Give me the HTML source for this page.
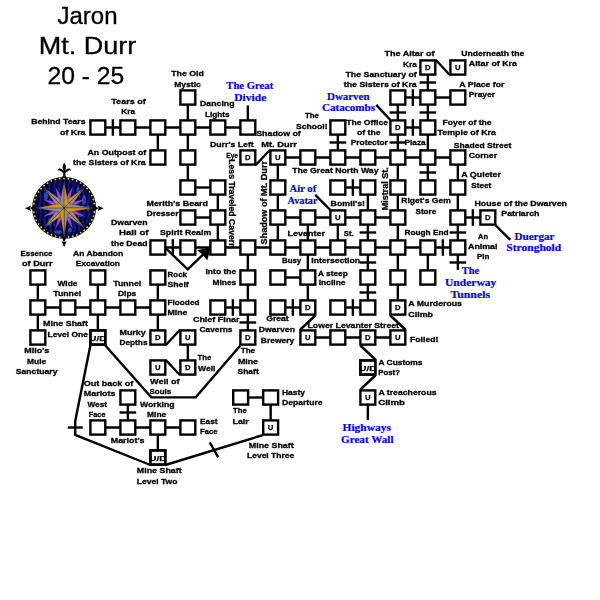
<!DOCTYPE html>
<html><head><meta charset="utf-8"><title>Jaron Mt. Durr 20 - 25</title>
<style>
html,body{margin:0;padding:0;background:#fff;}
body{width:600px;height:600px;overflow:hidden;font-family:"Liberation Sans",sans-serif;}
svg{display:block;}
</style></head><body>
<svg width="600" height="600" viewBox="0 0 600 600">
<rect width="600" height="600" fill="#fff"/>
<g transform="translate(0.25,-0.1)">
<g stroke="#000" stroke-width="2.4" fill="none" stroke-linecap="butt" stroke-linejoin="miter">
<line x1="427.6" y1="97.6" x2="457.6" y2="97.6"/>
<line x1="397.6" y1="97.6" x2="427.6" y2="97.6"/>
<line x1="412.6" y1="89.3" x2="412.6" y2="105.9"/>
<line x1="97.6" y1="127.6" x2="247.6" y2="127.6"/>
<line x1="112.6" y1="119.3" x2="112.6" y2="135.9"/>
<line x1="397.6" y1="127.6" x2="427.6" y2="127.6"/>
<line x1="412.6" y1="119.3" x2="412.6" y2="135.9"/>
<line x1="277.6" y1="157.6" x2="457.6" y2="157.6"/>
<line x1="187.6" y1="187.6" x2="217.6" y2="187.6"/>
<line x1="337.6" y1="187.6" x2="367.6" y2="187.6"/>
<line x1="352.6" y1="179.3" x2="352.6" y2="195.9"/>
<line x1="187.6" y1="217.6" x2="217.6" y2="217.6"/>
<line x1="277.6" y1="217.6" x2="397.6" y2="217.6"/>
<line x1="457.6" y1="217.6" x2="487.6" y2="217.6"/>
<line x1="472.6" y1="209.3" x2="472.6" y2="225.9"/>
<line x1="157.6" y1="247.6" x2="457.6" y2="247.6"/>
<line x1="172.6" y1="239.3" x2="172.6" y2="255.9"/>
<line x1="442.6" y1="239.3" x2="442.6" y2="255.9"/>
<line x1="277.6" y1="277.6" x2="307.6" y2="277.6"/>
<line x1="37.6" y1="307.6" x2="157.6" y2="307.6"/>
<line x1="217.6" y1="307.6" x2="247.6" y2="307.6"/>
<line x1="232.6" y1="299.3" x2="232.6" y2="315.9"/>
<line x1="277.6" y1="307.6" x2="307.6" y2="307.6"/>
<line x1="292.6" y1="299.3" x2="292.6" y2="315.9"/>
<line x1="337.6" y1="307.6" x2="367.6" y2="307.6"/>
<line x1="352.6" y1="299.3" x2="352.6" y2="315.9"/>
<line x1="307.6" y1="337.6" x2="397.6" y2="337.6"/>
<line x1="97.6" y1="427.6" x2="187.6" y2="427.6"/>
<line x1="240.4" y1="397.6" x2="270.4" y2="397.6"/>
<line x1="187.6" y1="97.6" x2="187.6" y2="187.6"/>
<line x1="157.6" y1="127.6" x2="157.6" y2="157.6"/>
<line x1="247.6" y1="105.5" x2="247.6" y2="127.6"/>
<line x1="217.6" y1="187.6" x2="217.6" y2="247.6"/>
<line x1="277.6" y1="157.6" x2="277.6" y2="247.6"/>
<line x1="247.6" y1="247.6" x2="247.6" y2="337.6"/>
<line x1="239.3" y1="322.6" x2="255.9" y2="322.6"/>
<line x1="307.6" y1="217.6" x2="307.6" y2="307.6"/>
<line x1="337.6" y1="127.6" x2="337.6" y2="157.6"/>
<line x1="329.3" y1="142.6" x2="345.9" y2="142.6"/>
<line x1="337.6" y1="217.6" x2="337.6" y2="247.6"/>
<line x1="367.6" y1="187.6" x2="367.6" y2="307.6"/>
<line x1="359.3" y1="232.6" x2="375.9" y2="232.6"/>
<line x1="359.3" y1="262.6" x2="375.9" y2="262.6"/>
<line x1="359.3" y1="292.6" x2="375.9" y2="292.6"/>
<line x1="397.6" y1="97.6" x2="397.6" y2="277.6"/>
<line x1="389.3" y1="112.6" x2="405.9" y2="112.6"/>
<line x1="389.3" y1="142.6" x2="405.9" y2="142.6"/>
<line x1="397.6" y1="277.6" x2="397.6" y2="307.6"/>
<line x1="427.6" y1="67.6" x2="427.6" y2="187.6"/>
<line x1="419.3" y1="82.6" x2="435.9" y2="82.6"/>
<line x1="419.3" y1="112.6" x2="435.9" y2="112.6"/>
<line x1="419.3" y1="172.6" x2="435.9" y2="172.6"/>
<line x1="427.6" y1="247.6" x2="427.6" y2="277.6"/>
<line x1="457.6" y1="157.6" x2="457.6" y2="247.6"/>
<line x1="449.3" y1="232.6" x2="465.9" y2="232.6"/>
<line x1="457.6" y1="247.6" x2="457.6" y2="270.0"/>
<line x1="449.3" y1="262.6" x2="465.9" y2="262.6"/>
<line x1="37.6" y1="277.6" x2="37.6" y2="337.6"/>
<line x1="97.6" y1="277.6" x2="97.6" y2="337.6"/>
<line x1="157.6" y1="277.6" x2="157.6" y2="337.6"/>
<line x1="187.6" y1="337.6" x2="187.6" y2="367.6"/>
<line x1="127.6" y1="397.6" x2="127.6" y2="427.6"/>
<line x1="119.3" y1="412.6" x2="135.9" y2="412.6"/>
<line x1="157.6" y1="427.6" x2="157.6" y2="457.6"/>
<line x1="270.4" y1="397.6" x2="270.4" y2="427.6"/>
<line x1="367.6" y1="397.6" x2="367.6" y2="420.0"/>
<line x1="67.5" y1="427.6" x2="82.5" y2="427.6"/>
<line x1="209.5" y1="442.5" x2="218.0" y2="457.5"/>
<polyline points="435.6,60.1 449.6,75.1"/>
<polyline points="376.0,105.0 390.1,120.1"/>
<polyline points="255.6,165.1 269.6,150.1"/>
<polyline points="315.0,195.0 330.1,210.1"/>
<polyline points="495.1,225.1 510.0,240.0"/>
<polyline points="165.6,345.1 179.6,330.1"/>
<polyline points="165.6,360.1 179.6,375.1"/>
<polyline points="315.1,315.6 300.1,329.6"/>
<polyline points="390.1,315.6 405.1,329.6"/>
<polyline points="360.1,345.6 375.1,359.6"/>
<polyline points="375.1,375.6 360.1,389.6"/>
<polyline points="165.8,248.6 187.5,269.5 203.5,254.0"/>
<polyline points="105.1,345.6 151.0,397.5 195.5,397.5 240.1,345.6"/>
<polyline points="90.1,345.6 75.0,421.0 75.0,435.0 150.1,465.1"/>
<polyline points="165.1,465.1 262.4,435.2"/>
</g>
<g stroke="#000" stroke-width="2.4" fill="#fff">
<rect x="420.15" y="60.50" width="14.90" height="14.20"/>
<rect x="450.15" y="60.50" width="14.90" height="14.20"/>
<rect x="180.15" y="90.50" width="14.90" height="14.20"/>
<rect x="390.15" y="90.50" width="14.90" height="14.20"/>
<rect x="420.15" y="90.50" width="14.90" height="14.20"/>
<rect x="450.15" y="90.50" width="14.90" height="14.20"/>
<rect x="90.15" y="120.50" width="14.90" height="14.20"/>
<rect x="120.15" y="120.50" width="14.90" height="14.20"/>
<rect x="150.15" y="120.50" width="14.90" height="14.20"/>
<rect x="180.15" y="120.50" width="14.90" height="14.20"/>
<rect x="210.15" y="120.50" width="14.90" height="14.20"/>
<rect x="240.15" y="120.50" width="14.90" height="14.20"/>
<rect x="330.15" y="120.50" width="14.90" height="14.20"/>
<rect x="420.15" y="120.50" width="14.90" height="14.20"/>
<rect x="390.15" y="120.50" width="14.90" height="14.20"/>
<rect x="150.15" y="150.50" width="14.90" height="14.20"/>
<rect x="180.15" y="150.50" width="14.90" height="14.20"/>
<rect x="300.15" y="150.50" width="14.90" height="14.20"/>
<rect x="330.15" y="150.50" width="14.90" height="14.20"/>
<rect x="360.15" y="150.50" width="14.90" height="14.20"/>
<rect x="390.15" y="150.50" width="14.90" height="14.20"/>
<rect x="420.15" y="150.50" width="14.90" height="14.20"/>
<rect x="450.15" y="150.50" width="14.90" height="14.20"/>
<rect x="240.15" y="150.50" width="14.90" height="14.20"/>
<rect x="270.15" y="150.50" width="14.90" height="14.20"/>
<rect x="180.15" y="180.50" width="14.90" height="14.20"/>
<rect x="210.15" y="180.50" width="14.90" height="14.20"/>
<rect x="270.15" y="180.50" width="14.90" height="14.20"/>
<rect x="330.15" y="180.50" width="14.90" height="14.20"/>
<rect x="360.15" y="180.50" width="14.90" height="14.20"/>
<rect x="390.15" y="180.50" width="14.90" height="14.20"/>
<rect x="420.15" y="180.50" width="14.90" height="14.20"/>
<rect x="450.15" y="180.50" width="14.90" height="14.20"/>
<rect x="180.15" y="210.50" width="14.90" height="14.20"/>
<rect x="210.15" y="210.50" width="14.90" height="14.20"/>
<rect x="270.15" y="210.50" width="14.90" height="14.20"/>
<rect x="300.15" y="210.50" width="14.90" height="14.20"/>
<rect x="360.15" y="210.50" width="14.90" height="14.20"/>
<rect x="390.15" y="210.50" width="14.90" height="14.20"/>
<rect x="450.15" y="210.50" width="14.90" height="14.20"/>
<rect x="330.15" y="210.50" width="14.90" height="14.20"/>
<rect x="480.15" y="210.50" width="14.90" height="14.20"/>
<rect x="150.15" y="240.50" width="14.90" height="14.20"/>
<rect x="180.15" y="240.50" width="14.90" height="14.20"/>
<rect x="210.15" y="240.50" width="14.90" height="14.20"/>
<rect x="240.15" y="240.50" width="14.90" height="14.20"/>
<rect x="270.15" y="240.50" width="14.90" height="14.20"/>
<rect x="300.15" y="240.50" width="14.90" height="14.20"/>
<rect x="330.15" y="240.50" width="14.90" height="14.20"/>
<rect x="360.15" y="240.50" width="14.90" height="14.20"/>
<rect x="390.15" y="240.50" width="14.90" height="14.20"/>
<rect x="420.15" y="240.50" width="14.90" height="14.20"/>
<rect x="450.15" y="240.50" width="14.90" height="14.20"/>
<rect x="30.15" y="270.50" width="14.90" height="14.20"/>
<rect x="90.15" y="270.50" width="14.90" height="14.20"/>
<rect x="150.15" y="270.50" width="14.90" height="14.20"/>
<rect x="240.15" y="270.50" width="14.90" height="14.20"/>
<rect x="270.15" y="270.50" width="14.90" height="14.20"/>
<rect x="300.15" y="270.50" width="14.90" height="14.20"/>
<rect x="360.15" y="270.50" width="14.90" height="14.20"/>
<rect x="390.15" y="270.50" width="14.90" height="14.20"/>
<rect x="420.15" y="270.50" width="14.90" height="14.20"/>
<rect x="30.15" y="300.50" width="14.90" height="14.20"/>
<rect x="60.15" y="300.50" width="14.90" height="14.20"/>
<rect x="90.15" y="300.50" width="14.90" height="14.20"/>
<rect x="120.15" y="300.50" width="14.90" height="14.20"/>
<rect x="150.15" y="300.50" width="14.90" height="14.20"/>
<rect x="210.15" y="300.50" width="14.90" height="14.20"/>
<rect x="240.15" y="300.50" width="14.90" height="14.20"/>
<rect x="270.15" y="300.50" width="14.90" height="14.20"/>
<rect x="330.15" y="300.50" width="14.90" height="14.20"/>
<rect x="360.15" y="300.50" width="14.90" height="14.20"/>
<rect x="300.15" y="300.50" width="14.90" height="14.20"/>
<rect x="390.15" y="300.50" width="14.90" height="14.20"/>
<rect x="30.15" y="330.50" width="14.90" height="14.20"/>
<rect x="90.15" y="330.50" width="14.90" height="14.20"/>
<rect x="150.15" y="330.50" width="14.90" height="14.20"/>
<rect x="180.15" y="330.50" width="14.90" height="14.20"/>
<rect x="240.15" y="330.50" width="14.90" height="14.20"/>
<rect x="300.15" y="330.50" width="14.90" height="14.20"/>
<rect x="330.15" y="330.50" width="14.90" height="14.20"/>
<rect x="360.15" y="330.50" width="14.90" height="14.20"/>
<rect x="390.15" y="330.50" width="14.90" height="14.20"/>
<rect x="150.15" y="360.50" width="14.90" height="14.20"/>
<rect x="180.15" y="360.50" width="14.90" height="14.20"/>
<rect x="360.15" y="360.50" width="14.90" height="14.20"/>
<rect x="120.15" y="390.50" width="14.90" height="14.20"/>
<rect x="360.15" y="390.50" width="14.90" height="14.20"/>
<rect x="232.95" y="390.50" width="14.90" height="14.20"/>
<rect x="262.95" y="390.50" width="14.90" height="14.20"/>
<rect x="262.95" y="420.50" width="14.90" height="14.20"/>
<rect x="90.15" y="420.50" width="14.90" height="14.20"/>
<rect x="120.15" y="420.50" width="14.90" height="14.20"/>
<rect x="150.15" y="420.50" width="14.90" height="14.20"/>
<rect x="180.15" y="420.50" width="14.90" height="14.20"/>
<rect x="150.15" y="450.50" width="14.90" height="14.20"/>
</g>
<g font-family="Liberation Sans, sans-serif" font-weight="bold" font-size="7.7px" text-anchor="middle" fill="#000" stroke="#000" stroke-width="0.25" style="filter:grayscale(1)">
<text x="427.6" y="70.4">D</text>
<text x="457.6" y="70.4">U</text>
<text x="397.6" y="130.4">D</text>
<text x="247.6" y="160.4">D</text>
<text x="277.6" y="160.4">U</text>
<text x="337.6" y="220.4">U</text>
<text x="487.6" y="220.4">D</text>
<text x="307.6" y="310.4">D</text>
<text x="397.6" y="310.4">D</text>
<text x="97.6" y="341.2" textLength="17" lengthAdjust="spacingAndGlyphs">U/D</text>
<text x="157.6" y="340.4">D</text>
<text x="187.6" y="340.4">U</text>
<text x="247.6" y="340.4">D</text>
<text x="307.6" y="340.4">U</text>
<text x="367.6" y="340.4">D</text>
<text x="397.6" y="340.4">U</text>
<text x="157.6" y="370.4">U</text>
<text x="187.6" y="370.4">D</text>
<text x="367.6" y="371.2" textLength="17" lengthAdjust="spacingAndGlyphs">U/D</text>
<text x="367.6" y="400.4">U</text>
<text x="270.4" y="430.4">U</text>
<text x="157.6" y="461.2" textLength="17" lengthAdjust="spacingAndGlyphs">U/D</text>
</g>
<g stroke="#000" stroke-width="2.38" fill="none">
<rect x="90.15" y="330.50" width="14.90" height="14.20"/>
<rect x="360.15" y="360.50" width="14.90" height="14.20"/>
<rect x="150.15" y="450.50" width="14.90" height="14.20"/>
</g>
<polygon points="210.6,247.2 196.8,250.4 202.2,254.6 207.0,260.6" fill="#000"/>
</g>
<g id="compass">
<defs><clipPath id="cclip"><circle cx="64.10" cy="207.90" r="28.40"/></clipPath></defs>
<ellipse cx="64.10" cy="207.90" rx="32.00" ry="30.90" fill="#05051c"/>
<circle cx="64.10" cy="207.90" r="28.20" fill="#0b0b66"/>
<g clip-path="url(#cclip)" fill="none" stroke-linecap="round">
<path d="M33.1 176.9 q1.6 4 0 8 q-1.6 4 0 8 q1.6 4 0 8 q-1.6 4 0 8 q1.6 4 0 8 q-1.6 4 0 8 q1.6 4 0 8 q-1.6 4 0 8" stroke="#02021a" stroke-width="1.6"/>
<path d="M35.5 176.9 q1.6 4 0 8 q-1.6 4 0 8 q1.6 4 0 8 q-1.6 4 0 8 q1.6 4 0 8 q-1.6 4 0 8 q1.6 4 0 8 q-1.6 4 0 8" stroke="#1820b4" stroke-width="0.8"/>
<path d="M37.9 176.9 q1.6 4 0 8 q-1.6 4 0 8 q1.6 4 0 8 q-1.6 4 0 8 q1.6 4 0 8 q-1.6 4 0 8 q1.6 4 0 8 q-1.6 4 0 8" stroke="#02021a" stroke-width="1.6"/>
<path d="M40.3 176.9 q1.6 4 0 8 q-1.6 4 0 8 q1.6 4 0 8 q-1.6 4 0 8 q1.6 4 0 8 q-1.6 4 0 8 q1.6 4 0 8 q-1.6 4 0 8" stroke="#1820b4" stroke-width="0.8"/>
<path d="M42.7 176.9 q1.6 4 0 8 q-1.6 4 0 8 q1.6 4 0 8 q-1.6 4 0 8 q1.6 4 0 8 q-1.6 4 0 8 q1.6 4 0 8 q-1.6 4 0 8" stroke="#02021a" stroke-width="1.6"/>
<path d="M45.1 176.9 q1.6 4 0 8 q-1.6 4 0 8 q1.6 4 0 8 q-1.6 4 0 8 q1.6 4 0 8 q-1.6 4 0 8 q1.6 4 0 8 q-1.6 4 0 8" stroke="#1820b4" stroke-width="0.8"/>
<path d="M47.5 176.9 q1.6 4 0 8 q-1.6 4 0 8 q1.6 4 0 8 q-1.6 4 0 8 q1.6 4 0 8 q-1.6 4 0 8 q1.6 4 0 8 q-1.6 4 0 8" stroke="#02021a" stroke-width="1.6"/>
<path d="M49.9 176.9 q1.6 4 0 8 q-1.6 4 0 8 q1.6 4 0 8 q-1.6 4 0 8 q1.6 4 0 8 q-1.6 4 0 8 q1.6 4 0 8 q-1.6 4 0 8" stroke="#1820b4" stroke-width="0.8"/>
<path d="M52.3 176.9 q1.6 4 0 8 q-1.6 4 0 8 q1.6 4 0 8 q-1.6 4 0 8 q1.6 4 0 8 q-1.6 4 0 8 q1.6 4 0 8 q-1.6 4 0 8" stroke="#02021a" stroke-width="1.6"/>
<path d="M54.7 176.9 q1.6 4 0 8 q-1.6 4 0 8 q1.6 4 0 8 q-1.6 4 0 8 q1.6 4 0 8 q-1.6 4 0 8 q1.6 4 0 8 q-1.6 4 0 8" stroke="#1820b4" stroke-width="0.8"/>
<path d="M57.1 176.9 q1.6 4 0 8 q-1.6 4 0 8 q1.6 4 0 8 q-1.6 4 0 8 q1.6 4 0 8 q-1.6 4 0 8 q1.6 4 0 8 q-1.6 4 0 8" stroke="#02021a" stroke-width="1.6"/>
<path d="M59.5 176.9 q1.6 4 0 8 q-1.6 4 0 8 q1.6 4 0 8 q-1.6 4 0 8 q1.6 4 0 8 q-1.6 4 0 8 q1.6 4 0 8 q-1.6 4 0 8" stroke="#1820b4" stroke-width="0.8"/>
<path d="M61.9 176.9 q1.6 4 0 8 q-1.6 4 0 8 q1.6 4 0 8 q-1.6 4 0 8 q1.6 4 0 8 q-1.6 4 0 8 q1.6 4 0 8 q-1.6 4 0 8" stroke="#02021a" stroke-width="1.6"/>
<path d="M64.3 176.9 q1.6 4 0 8 q-1.6 4 0 8 q1.6 4 0 8 q-1.6 4 0 8 q1.6 4 0 8 q-1.6 4 0 8 q1.6 4 0 8 q-1.6 4 0 8" stroke="#1820b4" stroke-width="0.8"/>
<path d="M66.7 176.9 q1.6 4 0 8 q-1.6 4 0 8 q1.6 4 0 8 q-1.6 4 0 8 q1.6 4 0 8 q-1.6 4 0 8 q1.6 4 0 8 q-1.6 4 0 8" stroke="#02021a" stroke-width="1.6"/>
<path d="M69.1 176.9 q1.6 4 0 8 q-1.6 4 0 8 q1.6 4 0 8 q-1.6 4 0 8 q1.6 4 0 8 q-1.6 4 0 8 q1.6 4 0 8 q-1.6 4 0 8" stroke="#1820b4" stroke-width="0.8"/>
<path d="M71.5 176.9 q1.6 4 0 8 q-1.6 4 0 8 q1.6 4 0 8 q-1.6 4 0 8 q1.6 4 0 8 q-1.6 4 0 8 q1.6 4 0 8 q-1.6 4 0 8" stroke="#02021a" stroke-width="1.6"/>
<path d="M73.9 176.9 q1.6 4 0 8 q-1.6 4 0 8 q1.6 4 0 8 q-1.6 4 0 8 q1.6 4 0 8 q-1.6 4 0 8 q1.6 4 0 8 q-1.6 4 0 8" stroke="#1820b4" stroke-width="0.8"/>
<path d="M76.3 176.9 q1.6 4 0 8 q-1.6 4 0 8 q1.6 4 0 8 q-1.6 4 0 8 q1.6 4 0 8 q-1.6 4 0 8 q1.6 4 0 8 q-1.6 4 0 8" stroke="#02021a" stroke-width="1.6"/>
<path d="M78.7 176.9 q1.6 4 0 8 q-1.6 4 0 8 q1.6 4 0 8 q-1.6 4 0 8 q1.6 4 0 8 q-1.6 4 0 8 q1.6 4 0 8 q-1.6 4 0 8" stroke="#1820b4" stroke-width="0.8"/>
<path d="M81.1 176.9 q1.6 4 0 8 q-1.6 4 0 8 q1.6 4 0 8 q-1.6 4 0 8 q1.6 4 0 8 q-1.6 4 0 8 q1.6 4 0 8 q-1.6 4 0 8" stroke="#02021a" stroke-width="1.6"/>
<path d="M83.5 176.9 q1.6 4 0 8 q-1.6 4 0 8 q1.6 4 0 8 q-1.6 4 0 8 q1.6 4 0 8 q-1.6 4 0 8 q1.6 4 0 8 q-1.6 4 0 8" stroke="#1820b4" stroke-width="0.8"/>
<path d="M85.9 176.9 q1.6 4 0 8 q-1.6 4 0 8 q1.6 4 0 8 q-1.6 4 0 8 q1.6 4 0 8 q-1.6 4 0 8 q1.6 4 0 8 q-1.6 4 0 8" stroke="#02021a" stroke-width="1.6"/>
<path d="M88.3 176.9 q1.6 4 0 8 q-1.6 4 0 8 q1.6 4 0 8 q-1.6 4 0 8 q1.6 4 0 8 q-1.6 4 0 8 q1.6 4 0 8 q-1.6 4 0 8" stroke="#1820b4" stroke-width="0.8"/>
<path d="M90.7 176.9 q1.6 4 0 8 q-1.6 4 0 8 q1.6 4 0 8 q-1.6 4 0 8 q1.6 4 0 8 q-1.6 4 0 8 q1.6 4 0 8 q-1.6 4 0 8" stroke="#02021a" stroke-width="1.6"/>
<path d="M93.1 176.9 q1.6 4 0 8 q-1.6 4 0 8 q1.6 4 0 8 q-1.6 4 0 8 q1.6 4 0 8 q-1.6 4 0 8 q1.6 4 0 8 q-1.6 4 0 8" stroke="#1820b4" stroke-width="0.8"/>
<ellipse cx="84.0" cy="200.0" rx="2.0" ry="5.0" fill="#2466d8" stroke="none" opacity="0.7"/>
<ellipse cx="80.0" cy="215.0" rx="3.0" ry="2.0" fill="#2466d8" stroke="none" opacity="0.7"/>
<ellipse cx="50.0" cy="222.0" rx="2.0" ry="4.0" fill="#2466d8" stroke="none" opacity="0.7"/>
<ellipse cx="58.0" cy="232.0" rx="4.0" ry="1.8" fill="#2466d8" stroke="none" opacity="0.7"/>
<ellipse cx="46.0" cy="196.0" rx="2.0" ry="4.0" fill="#2466d8" stroke="none" opacity="0.7"/>
<ellipse cx="78.0" cy="190.0" rx="1.5" ry="3.0" fill="#2466d8" stroke="none" opacity="0.7"/>
<ellipse cx="88.0" cy="208.0" rx="1.5" ry="3.0" fill="#2466d8" stroke="none" opacity="0.7"/>
<ellipse cx="70.0" cy="230.0" rx="2.0" ry="2.5" fill="#2466d8" stroke="none" opacity="0.7"/>
</g>
<circle cx="68.34" cy="178.69" r="0.95" fill="#e0cf4c"/>
<circle cx="72.60" cy="179.57" r="0.95" fill="#e0cf4c"/>
<circle cx="76.68" cy="181.03" r="0.95" fill="#e0cf4c"/>
<circle cx="80.51" cy="183.03" r="0.95" fill="#e0cf4c"/>
<circle cx="84.00" cy="185.54" r="0.95" fill="#e0cf4c"/>
<circle cx="87.09" cy="188.51" r="0.95" fill="#e0cf4c"/>
<circle cx="89.71" cy="191.87" r="0.95" fill="#e0cf4c"/>
<circle cx="91.80" cy="195.56" r="0.95" fill="#e0cf4c"/>
<circle cx="93.34" cy="199.50" r="0.95" fill="#e0cf4c"/>
<circle cx="94.28" cy="203.61" r="0.95" fill="#e0cf4c"/>
<circle cx="94.60" cy="207.81" r="0.95" fill="#e0cf4c"/>
<circle cx="94.30" cy="212.01" r="0.95" fill="#e0cf4c"/>
<circle cx="93.39" cy="216.12" r="0.95" fill="#e0cf4c"/>
<circle cx="91.88" cy="220.07" r="0.95" fill="#e0cf4c"/>
<circle cx="89.81" cy="223.77" r="0.95" fill="#e0cf4c"/>
<circle cx="87.21" cy="227.15" r="0.95" fill="#e0cf4c"/>
<circle cx="84.15" cy="230.13" r="0.95" fill="#e0cf4c"/>
<circle cx="80.67" cy="232.67" r="0.95" fill="#e0cf4c"/>
<circle cx="76.86" cy="234.70" r="0.95" fill="#e0cf4c"/>
<circle cx="72.79" cy="236.18" r="0.95" fill="#e0cf4c"/>
<circle cx="68.54" cy="237.09" r="0.95" fill="#e0cf4c"/>
<circle cx="64.20" cy="237.40" r="0.95" fill="#e0cf4c"/>
<circle cx="59.86" cy="237.11" r="0.95" fill="#e0cf4c"/>
<circle cx="55.60" cy="236.23" r="0.95" fill="#e0cf4c"/>
<circle cx="51.52" cy="234.77" r="0.95" fill="#e0cf4c"/>
<circle cx="47.69" cy="232.77" r="0.95" fill="#e0cf4c"/>
<circle cx="44.20" cy="230.26" r="0.95" fill="#e0cf4c"/>
<circle cx="41.11" cy="227.29" r="0.95" fill="#e0cf4c"/>
<circle cx="38.49" cy="223.93" r="0.95" fill="#e0cf4c"/>
<circle cx="36.40" cy="220.24" r="0.95" fill="#e0cf4c"/>
<circle cx="34.86" cy="216.30" r="0.95" fill="#e0cf4c"/>
<circle cx="33.92" cy="212.19" r="0.95" fill="#e0cf4c"/>
<circle cx="33.60" cy="207.99" r="0.95" fill="#e0cf4c"/>
<circle cx="33.90" cy="203.79" r="0.95" fill="#e0cf4c"/>
<circle cx="34.81" cy="199.68" r="0.95" fill="#e0cf4c"/>
<circle cx="36.32" cy="195.73" r="0.95" fill="#e0cf4c"/>
<circle cx="38.39" cy="192.03" r="0.95" fill="#e0cf4c"/>
<circle cx="40.99" cy="188.65" r="0.95" fill="#e0cf4c"/>
<circle cx="44.05" cy="185.67" r="0.95" fill="#e0cf4c"/>
<circle cx="47.53" cy="183.13" r="0.95" fill="#e0cf4c"/>
<circle cx="51.34" cy="181.10" r="0.95" fill="#e0cf4c"/>
<circle cx="55.41" cy="179.62" r="0.95" fill="#e0cf4c"/>
<circle cx="59.66" cy="178.71" r="0.95" fill="#e0cf4c"/>
<circle cx="64.00" cy="178.40" r="0.95" fill="#e0cf4c"/>
<polygon points="64.45,199.91 72.90,186.65 69.50,202.00" fill="#a544d6" stroke="#2a0a40" stroke-width="0.3"/>
<polygon points="70.00,202.50 85.35,199.10 72.09,207.55" fill="#a544d6" stroke="#2a0a40" stroke-width="0.3"/>
<polygon points="72.09,208.25 85.35,216.70 70.00,213.30" fill="#a544d6" stroke="#2a0a40" stroke-width="0.3"/>
<polygon points="69.50,213.80 72.90,229.15 64.45,215.89" fill="#a544d6" stroke="#2a0a40" stroke-width="0.3"/>
<polygon points="63.75,215.89 55.30,229.15 58.70,213.80" fill="#a544d6" stroke="#2a0a40" stroke-width="0.3"/>
<polygon points="58.20,213.30 42.85,216.70 56.11,208.25" fill="#a544d6" stroke="#2a0a40" stroke-width="0.3"/>
<polygon points="56.11,207.55 42.85,199.10 58.20,202.50" fill="#a544d6" stroke="#2a0a40" stroke-width="0.3"/>
<polygon points="58.70,202.00 55.30,186.65 63.75,199.91" fill="#a544d6" stroke="#2a0a40" stroke-width="0.3"/>
<polygon points="64.10,207.90 64.10,202.10 84.32,187.68" fill="#d6951f" stroke="#2a2418" stroke-width="0.35"/>
<polygon points="64.10,207.90 69.90,207.90 84.32,187.68" fill="#8f8f8f" stroke="#2a2418" stroke-width="0.35"/>
<polygon points="64.10,207.90 69.90,207.90 84.32,228.12" fill="#b89050" stroke="#2a2418" stroke-width="0.35"/>
<polygon points="64.10,207.90 64.10,213.70 84.32,228.12" fill="#8f8f8f" stroke="#2a2418" stroke-width="0.35"/>
<polygon points="64.10,207.90 64.10,213.70 43.88,228.12" fill="#d6951f" stroke="#2a2418" stroke-width="0.35"/>
<polygon points="64.10,207.90 58.30,207.90 43.88,228.12" fill="#8f8f8f" stroke="#2a2418" stroke-width="0.35"/>
<polygon points="64.10,207.90 58.30,207.90 43.88,187.68" fill="#8f8f8f" stroke="#2a2418" stroke-width="0.35"/>
<polygon points="64.10,207.90 64.10,202.10 43.88,187.68" fill="#a09078" stroke="#2a2418" stroke-width="0.35"/>
<polygon points="64.10,207.90 59.72,203.52 64.10,181.90" fill="#8f8f8f" stroke="#2a2418" stroke-width="0.35"/>
<polygon points="64.10,207.90 68.48,203.52 64.10,181.90" fill="#d6951f" stroke="#2a2418" stroke-width="0.35"/>
<polygon points="64.10,207.90 68.48,203.52 92.70,207.90" fill="#8f8f8f" stroke="#2a2418" stroke-width="0.35"/>
<polygon points="64.10,207.90 68.48,212.28 92.70,207.90" fill="#d6951f" stroke="#2a2418" stroke-width="0.35"/>
<polygon points="64.10,207.90 68.48,212.28 64.10,235.70" fill="#8f8f8f" stroke="#2a2418" stroke-width="0.35"/>
<polygon points="64.10,207.90 59.72,212.28 64.10,235.70" fill="#d6951f" stroke="#2a2418" stroke-width="0.35"/>
<polygon points="64.10,207.90 59.72,212.28 36.30,207.90" fill="#8f8f8f" stroke="#2a2418" stroke-width="0.35"/>
<polygon points="64.10,207.90 59.72,203.52 36.30,207.90" fill="#d6951f" stroke="#2a2418" stroke-width="0.35"/>
<circle cx="64.10" cy="207.90" r="1" fill="#222"/>
<path fill="#000" d="M64.30 162.8 c1.1 1.6 1.7 3 1.6 4.6 c-0.1 1.5 -0.6 2.7 -0.8 4 c0.8 -1.9 2.2 -3.1 3.8 -3 c1.4 0.1 2.2 1.2 1.9 2.6 c-0.5 -0.8 -1.3 -1 -2.1 -0.6 c-1.5 0.8 -2.4 1.8 -3.3 2.4 l0 3 l1.6 1.6 l-5.4 0 l1.6 -1.6 l0 -3 c-0.9 -0.6 -1.8 -1.6 -3.3 -2.4 c-0.8 -0.4 -1.6 -0.2 -2.1 0.6 c-0.3 -1.4 0.5 -2.5 1.9 -2.6 c1.6 -0.1 3 1.1 3.8 3 c-0.2 -1.3 -0.7 -2.5 -0.8 -4 c-0.1 -1.6 0.5 -3 1.6 -4.6 z"/>
<path fill="#000" d="M25 208.2 L31.2 205.6 L30.2 207.5 L35 206.5 L35 210 L30.2 209 L31.2 210.9 Z"/>
<path fill="#000" d="M103.6 208.2 L97.4 205.6 L98.4 207.5 L93.5 206.5 L93.5 210 L98.4 209 L97.4 210.9 Z"/>
<path fill="#000" d="M64.10 247.2 L61.50 241 L63.40 242 L62.30 237 L65.90 237 L64.80 242 L66.70 241 Z"/>
<path stroke="#fff" stroke-width="0.5" d="M30.5 207.2 V209.2 M98.1 207.2 V209.2 M63.10 241.7 H65.10"/>
</g>
<g font-family="Liberation Sans, sans-serif" font-weight="bold" font-size="8px" fill="#000" stroke="#000" stroke-width="0.3" style="filter:grayscale(1)">
<text x="111.25" y="103.75" textLength="34.50" lengthAdjust="spacingAndGlyphs">Tears of</text>
<text x="121.25" y="114.25" textLength="13.75" lengthAdjust="spacingAndGlyphs">Kra</text>
<text x="31.25" y="124.25" textLength="54.25" lengthAdjust="spacingAndGlyphs">Behind Tears</text>
<text x="60.00" y="134.50" textLength="25.50" lengthAdjust="spacingAndGlyphs">of Kra</text>
<text x="87.50" y="154.50" textLength="58.75" lengthAdjust="spacingAndGlyphs">An Outpost of</text>
<text x="73.00" y="164.50" textLength="72.75" lengthAdjust="spacingAndGlyphs">the Sisters of Kra</text>
<text x="171.25" y="76.40" textLength="32.50" lengthAdjust="spacingAndGlyphs">The Old</text>
<text x="174.25" y="86.60" textLength="26.50" lengthAdjust="spacingAndGlyphs">Mystic</text>
<text x="200.00" y="106.25" textLength="34.50" lengthAdjust="spacingAndGlyphs">Dancing</text>
<text x="205.00" y="116.70" textLength="24.50" lengthAdjust="spacingAndGlyphs">Lights</text>
<text x="256.25" y="136.25" textLength="44.50" lengthAdjust="spacingAndGlyphs">Shadow of</text>
<text x="261.25" y="146.70" textLength="35.75" lengthAdjust="spacingAndGlyphs">Mt. Durr</text>
<text x="210.00" y="147.00" textLength="43.75" lengthAdjust="spacingAndGlyphs">Durr's Left</text>
<text x="226.25" y="158.00" textLength="11.75" lengthAdjust="spacingAndGlyphs">Eye</text>
<text x="146.50" y="205.50" textLength="61.50" lengthAdjust="spacingAndGlyphs">Merith's Beard</text>
<text x="146.50" y="215.75" textLength="32.00" lengthAdjust="spacingAndGlyphs">Dresser</text>
<text x="160.00" y="234.50" textLength="51.25" lengthAdjust="spacingAndGlyphs">Spirit Realm</text>
<text x="111.00" y="225.00" textLength="36.50" lengthAdjust="spacingAndGlyphs">Dwarven</text>
<text x="119.00" y="235.00" textLength="29.50" lengthAdjust="spacingAndGlyphs">Hall of</text>
<text x="111.00" y="246.00" textLength="36.50" lengthAdjust="spacingAndGlyphs">the Dead</text>
<text x="167.50" y="276.50" textLength="19.50" lengthAdjust="spacingAndGlyphs">Rock</text>
<text x="167.50" y="286.75" textLength="21.25" lengthAdjust="spacingAndGlyphs">Shelf</text>
<text x="205.50" y="274.10" textLength="30.75" lengthAdjust="spacingAndGlyphs">Into the</text>
<text x="212.50" y="284.75" textLength="23.75" lengthAdjust="spacingAndGlyphs">Mines</text>
<text x="282.00" y="263.25" textLength="19.25" lengthAdjust="spacingAndGlyphs">Busy</text>
<text x="287.50" y="235.75" textLength="37.50" lengthAdjust="spacingAndGlyphs">Levanter</text>
<text x="343.75" y="235.75" textLength="10.00" lengthAdjust="spacingAndGlyphs">St.</text>
<text x="311.25" y="263.25" textLength="48.75" lengthAdjust="spacingAndGlyphs">Intersection</text>
<text x="318.00" y="275.50" textLength="29.75" lengthAdjust="spacingAndGlyphs">A steep</text>
<text x="318.75" y="285.00" textLength="26.75" lengthAdjust="spacingAndGlyphs">Incline</text>
<text x="292.20" y="172.50" textLength="86.30" lengthAdjust="spacingAndGlyphs">The Great North Way</text>
<text x="330.50" y="205.50" textLength="34.50" lengthAdjust="spacingAndGlyphs">Bomli's!</text>
<text x="346.25" y="124.50" textLength="41.75" lengthAdjust="spacingAndGlyphs">The Office</text>
<text x="357.00" y="135.00" textLength="23.50" lengthAdjust="spacingAndGlyphs">of the</text>
<text x="350.75" y="145.00" textLength="37.00" lengthAdjust="spacingAndGlyphs">Protector</text>
<text x="404.50" y="145.00" textLength="21.25" lengthAdjust="spacingAndGlyphs">Plaza</text>
<text x="305.00" y="118.20" textLength="14.00" lengthAdjust="spacingAndGlyphs">The</text>
<text x="296.00" y="129.00" textLength="31.50" lengthAdjust="spacingAndGlyphs">School!</text>
<text x="384.50" y="56.25" textLength="50.00" lengthAdjust="spacingAndGlyphs">The Altar of</text>
<text x="403.00" y="66.75" textLength="13.75" lengthAdjust="spacingAndGlyphs">Kra</text>
<text x="345.50" y="76.75" textLength="71.25" lengthAdjust="spacingAndGlyphs">The Sanctuary of</text>
<text x="343.75" y="87.00" textLength="73.00" lengthAdjust="spacingAndGlyphs">the Sisters of Kra</text>
<text x="461.25" y="55.50" textLength="63.00" lengthAdjust="spacingAndGlyphs">Underneath the</text>
<text x="468.75" y="65.75" textLength="48.25" lengthAdjust="spacingAndGlyphs">Altar of Kra</text>
<text x="459.25" y="87.00" textLength="45.25" lengthAdjust="spacingAndGlyphs">A Place for</text>
<text x="468.75" y="97.00" textLength="26.25" lengthAdjust="spacingAndGlyphs">Prayer</text>
<text x="442.50" y="124.75" textLength="49.00" lengthAdjust="spacingAndGlyphs">Foyer of the</text>
<text x="437.50" y="135.25" textLength="58.50" lengthAdjust="spacingAndGlyphs">Temple of Kra</text>
<text x="453.75" y="147.50" textLength="57.50" lengthAdjust="spacingAndGlyphs">Shaded Street</text>
<text x="468.75" y="157.50" textLength="28.25" lengthAdjust="spacingAndGlyphs">Corner</text>
<text x="461.25" y="176.50" textLength="39.75" lengthAdjust="spacingAndGlyphs">A Quieter</text>
<text x="471.25" y="187.50" textLength="20.00" lengthAdjust="spacingAndGlyphs">Steet</text>
<text x="474.50" y="206.25" textLength="92.50" lengthAdjust="spacingAndGlyphs">House of the Dwarven</text>
<text x="501.25" y="216.25" textLength="38.25" lengthAdjust="spacingAndGlyphs">Patriarch</text>
<text x="401.25" y="203.10" textLength="49.50" lengthAdjust="spacingAndGlyphs">Riget's Gem</text>
<text x="415.50" y="213.90" textLength="20.75" lengthAdjust="spacingAndGlyphs">Store</text>
<text x="404.50" y="234.70" textLength="44.00" lengthAdjust="spacingAndGlyphs">Rough End</text>
<text x="478.00" y="238.50" textLength="10.00" lengthAdjust="spacingAndGlyphs">An</text>
<text x="468.00" y="248.90" textLength="29.50" lengthAdjust="spacingAndGlyphs">Animal</text>
<text x="477.00" y="259.30" textLength="12.50" lengthAdjust="spacingAndGlyphs">Pin</text>
<text x="20.50" y="255.75" textLength="32.00" lengthAdjust="spacingAndGlyphs">Essence</text>
<text x="22.00" y="265.75" textLength="30.50" lengthAdjust="spacingAndGlyphs">of Durr</text>
<text x="73.00" y="256.25" textLength="50.25" lengthAdjust="spacingAndGlyphs">An Abandon</text>
<text x="75.75" y="266.25" textLength="44.25" lengthAdjust="spacingAndGlyphs">Excavation</text>
<text x="57.50" y="285.50" textLength="20.00" lengthAdjust="spacingAndGlyphs">Wide</text>
<text x="53.25" y="295.75" textLength="28.00" lengthAdjust="spacingAndGlyphs">Tunnel</text>
<text x="113.25" y="285.50" textLength="28.00" lengthAdjust="spacingAndGlyphs">Tunnel</text>
<text x="118.00" y="295.75" textLength="18.25" lengthAdjust="spacingAndGlyphs">Dips</text>
<text x="43.00" y="326.25" textLength="45.00" lengthAdjust="spacingAndGlyphs">Mine Shaft</text>
<text x="47.50" y="336.75" textLength="40.50" lengthAdjust="spacingAndGlyphs">Level One</text>
<text x="119.50" y="334.50" textLength="26.25" lengthAdjust="spacingAndGlyphs">Murky</text>
<text x="119.50" y="344.50" textLength="28.00" lengthAdjust="spacingAndGlyphs">Depths</text>
<text x="24.25" y="353.25" textLength="25.00" lengthAdjust="spacingAndGlyphs">Milo's</text>
<text x="27.00" y="363.75" textLength="19.25" lengthAdjust="spacingAndGlyphs">Mule</text>
<text x="15.75" y="374.25" textLength="41.75" lengthAdjust="spacingAndGlyphs">Sanctuary</text>
<text x="167.50" y="304.50" textLength="32.00" lengthAdjust="spacingAndGlyphs">Flooded</text>
<text x="167.50" y="314.50" textLength="20.00" lengthAdjust="spacingAndGlyphs">Mine</text>
<text x="193.00" y="321.75" textLength="46.50" lengthAdjust="spacingAndGlyphs">Chief Finar</text>
<text x="199.50" y="332.00" textLength="33.00" lengthAdjust="spacingAndGlyphs">Caverns</text>
<text x="266.25" y="321.25" textLength="22.50" lengthAdjust="spacingAndGlyphs">Great</text>
<text x="258.75" y="331.75" textLength="36.25" lengthAdjust="spacingAndGlyphs">Dwarven</text>
<text x="260.75" y="342.50" textLength="33.50" lengthAdjust="spacingAndGlyphs">Brewery</text>
<text x="240.75" y="352.50" textLength="14.25" lengthAdjust="spacingAndGlyphs">The</text>
<text x="238.00" y="363.70" textLength="20.00" lengthAdjust="spacingAndGlyphs">Mine</text>
<text x="237.50" y="373.75" textLength="21.25" lengthAdjust="spacingAndGlyphs">Shaft</text>
<text x="197.50" y="360.00" textLength="13.75" lengthAdjust="spacingAndGlyphs">The</text>
<text x="198.00" y="370.50" textLength="17.50" lengthAdjust="spacingAndGlyphs">Well</text>
<text x="150.00" y="384.00" textLength="29.50" lengthAdjust="spacingAndGlyphs">Well of</text>
<text x="149.50" y="394.25" textLength="21.75" lengthAdjust="spacingAndGlyphs">Souls</text>
<text x="83.75" y="386.25" textLength="49.50" lengthAdjust="spacingAndGlyphs">Out back of</text>
<text x="83.75" y="396.25" textLength="31.75" lengthAdjust="spacingAndGlyphs">Marlots</text>
<text x="87.50" y="406.75" textLength="19.50" lengthAdjust="spacingAndGlyphs">West</text>
<text x="88.75" y="417.00" textLength="16.75" lengthAdjust="spacingAndGlyphs">Face</text>
<text x="140.00" y="406.50" textLength="34.50" lengthAdjust="spacingAndGlyphs">Working</text>
<text x="147.00" y="417.00" textLength="19.25" lengthAdjust="spacingAndGlyphs">Mine</text>
<text x="110.75" y="443.00" textLength="33.75" lengthAdjust="spacingAndGlyphs">Marlot's</text>
<text x="136.75" y="473.00" textLength="45.00" lengthAdjust="spacingAndGlyphs">Mine Shaft</text>
<text x="136.75" y="483.75" textLength="40.75" lengthAdjust="spacingAndGlyphs">Level Two</text>
<text x="200.00" y="423.75" textLength="17.50" lengthAdjust="spacingAndGlyphs">East</text>
<text x="200.00" y="434.25" textLength="17.50" lengthAdjust="spacingAndGlyphs">Face</text>
<text x="233.00" y="413.25" textLength="13.75" lengthAdjust="spacingAndGlyphs">The</text>
<text x="232.50" y="423.75" textLength="16.25" lengthAdjust="spacingAndGlyphs">Lair</text>
<text x="282.00" y="394.75" textLength="23.00" lengthAdjust="spacingAndGlyphs">Hasty</text>
<text x="282.00" y="405.00" textLength="40.50" lengthAdjust="spacingAndGlyphs">Departure</text>
<text x="248.75" y="448.00" textLength="45.00" lengthAdjust="spacingAndGlyphs">Mine Shaft</text>
<text x="247.00" y="458.25" textLength="47.25" lengthAdjust="spacingAndGlyphs">Level Three</text>
<text x="408.30" y="306.00" textLength="53.70" lengthAdjust="spacingAndGlyphs">A Murderous</text>
<text x="408.30" y="316.50" textLength="24.70" lengthAdjust="spacingAndGlyphs">Climb</text>
<text x="307.50" y="327.60" textLength="91.50" lengthAdjust="spacingAndGlyphs">Lower Levanter Street</text>
<text x="410.00" y="341.50" textLength="28.50" lengthAdjust="spacingAndGlyphs">Foiled!</text>
<text x="378.50" y="365.00" textLength="44.00" lengthAdjust="spacingAndGlyphs">A Customs</text>
<text x="378.25" y="375.00" textLength="21.75" lengthAdjust="spacingAndGlyphs">Post?</text>
<text x="378.50" y="395.00" textLength="58.00" lengthAdjust="spacingAndGlyphs">A treacherous</text>
<text x="378.25" y="405.00" textLength="26.75" lengthAdjust="spacingAndGlyphs">Climb</text>
<text transform="translate(228.70,159.20) rotate(90)" font-size="9.3px" textLength="89.30" lengthAdjust="spacingAndGlyphs">Less Traveled Cavern</text>
<text transform="translate(267.30,244.50) rotate(-90)" font-size="9.4px" textLength="83.50" lengthAdjust="spacingAndGlyphs">Shadow of Mt. Durr</text>
<text transform="translate(387.80,210.30) rotate(-90)" font-size="9.0px" textLength="43.00" lengthAdjust="spacingAndGlyphs">Mistral St.</text>
</g>
<g font-family="Liberation Serif, serif" font-weight="bold" font-size="11px" fill="#0000ff" stroke="#0000ff" stroke-width="0.2">
<text x="226.25" y="88.90" textLength="47.00" lengthAdjust="spacingAndGlyphs">The Great</text>
<text x="234.25" y="101.25" textLength="32.00" lengthAdjust="spacingAndGlyphs">Divide</text>
<text x="327.00" y="99.50" textLength="42.50" lengthAdjust="spacingAndGlyphs">Dwarven</text>
<text x="322.00" y="111.25" textLength="53.00" lengthAdjust="spacingAndGlyphs">Catacombs</text>
<text x="289.50" y="191.75" textLength="26.75" lengthAdjust="spacingAndGlyphs">Air of</text>
<text x="287.50" y="203.75" textLength="30.00" lengthAdjust="spacingAndGlyphs">Avatar</text>
<text x="514.50" y="239.50" textLength="40.00" lengthAdjust="spacingAndGlyphs">Duergar</text>
<text x="506.25" y="251.25" textLength="55.00" lengthAdjust="spacingAndGlyphs">Stronghold</text>
<text x="461.75" y="274.25" textLength="17.50" lengthAdjust="spacingAndGlyphs">The</text>
<text x="445.00" y="286.25" textLength="51.25" lengthAdjust="spacingAndGlyphs">Underway</text>
<text x="450.50" y="298.00" textLength="39.50" lengthAdjust="spacingAndGlyphs">Tunnels</text>
<text x="342.50" y="431.00" textLength="48.50" lengthAdjust="spacingAndGlyphs">Highways</text>
<text x="341.00" y="442.50" textLength="52.50" lengthAdjust="spacingAndGlyphs">Great Wall</text>
</g>
<g font-family="Liberation Sans, sans-serif" font-size="23px" fill="#000" stroke="#000" stroke-width="0.3" style="filter:grayscale(1)">
<text x="57.50" y="24.00" textLength="60.00" lengthAdjust="spacingAndGlyphs">Jaron</text>
<text x="38.75" y="54.25" textLength="97.50" lengthAdjust="spacingAndGlyphs">Mt. Durr</text>
<text x="47.50" y="83.75" textLength="76.75" lengthAdjust="spacingAndGlyphs">20 - 25</text>
</g>
</svg>
</body></html>
